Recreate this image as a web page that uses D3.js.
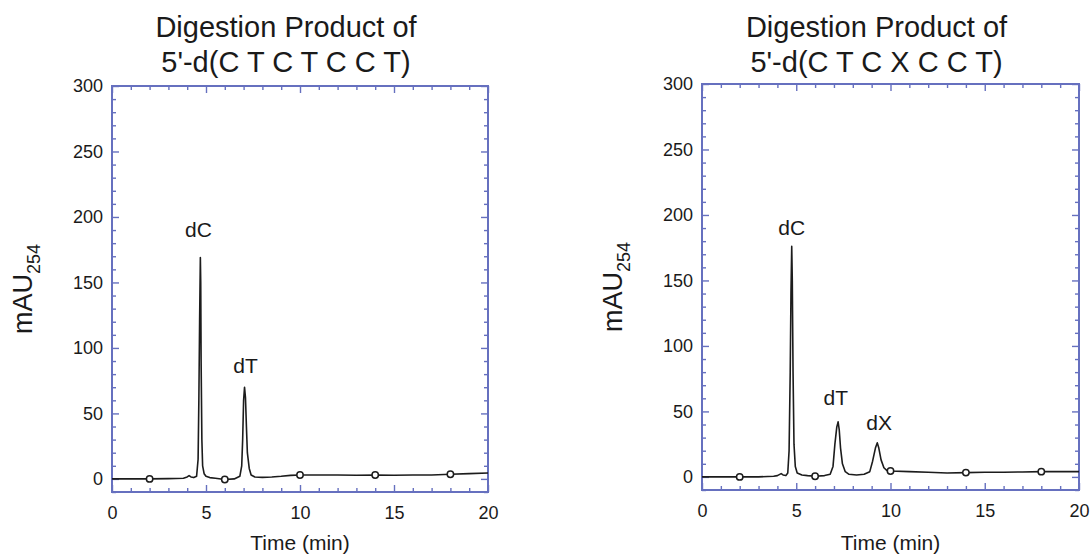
<!DOCTYPE html>
<html>
<head>
<meta charset="utf-8">
<script src="https://cdn.jsdelivr.net/npm/d3@7/dist/d3.min.js"></script>
<style>
  html, body { margin: 0; padding: 0; background: #fff; }
  svg { display: block; }
  text { font-family: "Liberation Sans", Arial, sans-serif; fill: #1a1a1a; }
</style>
</head>
<body>
<svg id="chart" width="1092" height="558"></svg>
<script>
// Chromatogram of 5'-d(C T C T C C T) digest: retention time (min) and absorbance (mAU at 254 nm)
const timeA = [0, 1, 2, 3, 3.8, 4.0, 4.1, 4.2, 4.35, 4.5, 4.58, 4.62, 4.66, 4.70, 4.72, 4.74, 4.78, 4.82, 4.9, 5.0, 5.2, 5.5, 6.0, 6.5, 6.8, 6.9, 6.95, 7.0, 7.05, 7.1, 7.15, 7.2, 7.3, 7.4, 7.6, 8, 8.5, 9, 9.5, 10, 11, 12, 13, 14, 15, 16, 17, 18, 19, 20];
const mauA  = [0, 0, 0, 0.2, 0.5, 1.5, 2.5, 1.5, 1, 2, 15, 60, 120, 169, 150, 90, 30, 10, 4, 2, 1, 0.5, -0.5, 0, 2, 10, 30, 60, 70, 62, 40, 20, 8, 3, 1.5, 1.2, 1.5, 2, 2.7, 3, 3, 3, 2.8, 3, 2.8, 3, 3, 3.5, 4, 4.5];

// Chromatogram of 5'-d(C T C X C C T) digest
const timeB = [0, 2, 3, 3.8, 4.0, 4.2, 4.3, 4.45, 4.55, 4.62, 4.68, 4.72, 4.76, 4.79, 4.83, 4.88, 4.95, 5.05, 5.3, 5.6, 6.0, 6.5, 6.8, 6.95, 7.05, 7.15, 7.22, 7.28, 7.35, 7.45, 7.6, 7.8, 8.2, 8.6, 8.9, 9.05, 9.2, 9.3, 9.38, 9.5, 9.65, 9.8, 10, 11, 12, 13, 14, 15, 16, 17, 18, 19, 20];
const mauB  = [0, 0, 0, 0.5, 1, 2.5, 1.5, 1, 3, 20, 80, 140, 176, 150, 80, 25, 8, 3, 1.5, 1, 0.5, 1, 2, 8, 25, 38, 42, 36, 22, 10, 4, 2, 1.5, 2, 4, 12, 22, 26, 22, 13, 7, 5, 4.5, 4, 3.5, 3, 3.3, 3.5, 3.5, 3.8, 4, 4, 4];

// Time marks drawn as open circles along each trace
const markTimes = [2, 6, 10, 14, 18];

// Peak labels: name, time, absorbance where the label sits
const peakNamesA = ["dC", "dT"];
const peakTimesA = [4.6, 7.1];
const peakMauA   = [185, 81];
const peakNamesB = ["dC", "dT", "dX"];
const peakTimesB = [4.76, 7.1, 9.4];
const peakMauB   = [185, 55, 36];

const titlesA = ["Digestion Product of", "5'-d(C T C T C C T)"];
const titlesB = ["Digestion Product of", "5'-d(C T C X C C T)"];

const xTicks = [0, 5, 10, 15, 20];
const yTicks = [0, 50, 100, 150, 200, 250, 300];
const xDomain = [0, 20];
const yDomain = [-10, 300];

const svg = d3.select("#chart");
const frameColor = "#6670bf";

function panel(cfg) {
  const g = svg.append("g");
  const x = d3.scaleLinear().domain(xDomain).range([cfg.left, cfg.right]);
  const y = d3.scaleLinear().domain(yDomain).range([cfg.bottom, cfg.top]);

  // Title
  const cx = (cfg.left + cfg.right) / 2 - 14;
  cfg.titles.forEach((t, i) => {
    g.append("text").attr("x", cx).attr("y", 37 + i * 35)
      .attr("text-anchor", "middle").attr("font-size", 29).text(t);
  });

  // Axes: ticks point inwards on all four sides
  const xMinor = d3.range(0, 21, 1);
  const yMinor = d3.range(-10, 301, 10);
  const tickStyle = sel => {
    sel.select(".domain").remove();
    sel.selectAll("line").attr("stroke", frameColor).attr("stroke-width", 1.4);
  };
  const mk = (axis, tr, minor, major) => {
    const minorAx = axis.tickValues(minor.filter(v => !major.includes(v))).tickSize(-4).tickFormat("");
    g.append("g").attr("transform", tr).call(minorAx).call(tickStyle);
  };
  const majorAx = (axis, tr) => g.append("g").attr("transform", tr).call(axis).call(tickStyle);
  const labelStyle = sel => sel.selectAll("text").attr("font-size", 18)
    .attr("font-family", "Liberation Sans, Arial, sans-serif").attr("fill", "#1a1a1a");

  // bottom
  mk(d3.axisBottom(x), `translate(0,${cfg.bottom})`, xMinor, xTicks);
  majorAx(d3.axisBottom(x).tickValues(xTicks).tickSize(-7).tickPadding(14).tickFormat(d3.format("d")), `translate(0,${cfg.bottom})`)
    .call(labelStyle);
  // top
  mk(d3.axisTop(x), `translate(0,${cfg.top})`, xMinor, xTicks);
  majorAx(d3.axisTop(x).tickValues(xTicks).tickSize(-7).tickFormat(""), `translate(0,${cfg.top})`);
  // left
  mk(d3.axisLeft(y), `translate(${cfg.left},0)`, yMinor, yTicks);
  majorAx(d3.axisLeft(y).tickValues(yTicks).tickSize(-7).tickPadding(9).tickFormat(d3.format("d")), `translate(${cfg.left},0)`)
    .call(labelStyle);
  // right
  mk(d3.axisRight(y), `translate(${cfg.right},0)`, yMinor, yTicks);
  majorAx(d3.axisRight(y).tickValues(yTicks).tickSize(-7).tickFormat(""), `translate(${cfg.right},0)`);

  // Frame
  g.append("rect").attr("x", cfg.left).attr("y", cfg.top)
    .attr("width", cfg.right - cfg.left).attr("height", cfg.bottom - cfg.top)
    .attr("fill", "none").attr("stroke", frameColor).attr("stroke-width", 2);

  // Trace
  const pts = cfg.time.map((t, i) => [t, cfg.mau[i]]);
  g.append("path").datum(pts)
    .attr("fill", "none").attr("stroke", "#1c1c1c").attr("stroke-width", 1.6)
    .attr("stroke-linejoin", "round")
    .attr("d", d3.line().x(d => x(d[0])).y(d => y(d[1])));

  // Time marks on the trace
  const interp = t => {
    const i = d3.bisectLeft(cfg.time, t);
    if (cfg.time[i] === t) return cfg.mau[i];
    const t0 = cfg.time[i - 1], t1 = cfg.time[i];
    return cfg.mau[i - 1] + (cfg.mau[i] - cfg.mau[i - 1]) * (t - t0) / (t1 - t0);
  };
  g.selectAll("circle.mark").data(markTimes).join("circle")
    .attr("class", "mark")
    .attr("cx", d => x(d)).attr("cy", d => y(interp(d)))
    .attr("r", 3.2).attr("fill", "#fff").attr("stroke", "#1c1c1c").attr("stroke-width", 1.5);

  // Peak labels
  cfg.peakNames.forEach((n, i) => {
    g.append("text").attr("x", x(cfg.peakTimes[i])).attr("y", y(cfg.peakMau[i]))
      .attr("text-anchor", "middle").attr("font-size", 21).text(n);
  });

  // Axis titles
  g.append("text").attr("x", (cfg.left + cfg.right) / 2).attr("y", 550)
    .attr("text-anchor", "middle").attr("font-size", 21).text("Time (min)");
  const yt = g.append("text")
    .attr("transform", `translate(${cfg.left - 80},${(cfg.top + cfg.bottom) / 2}) rotate(-90)`)
    .attr("text-anchor", "middle").attr("font-size", 27);
  yt.append("tspan").text("mAU");
  yt.append("tspan").attr("font-size", 18).attr("dy", 8).text("254");
}

panel({ left: 112, right: 488, top: 86, bottom: 492, titles: titlesA, time: timeA, mau: mauA,
        peakNames: peakNamesA, peakTimes: peakTimesA, peakMau: peakMauA });
panel({ left: 702, right: 1079, top: 84, bottom: 490, titles: titlesB, time: timeB, mau: mauB,
        peakNames: peakNamesB, peakTimes: peakTimesB, peakMau: peakMauB });
</script>
</body>
</html>
